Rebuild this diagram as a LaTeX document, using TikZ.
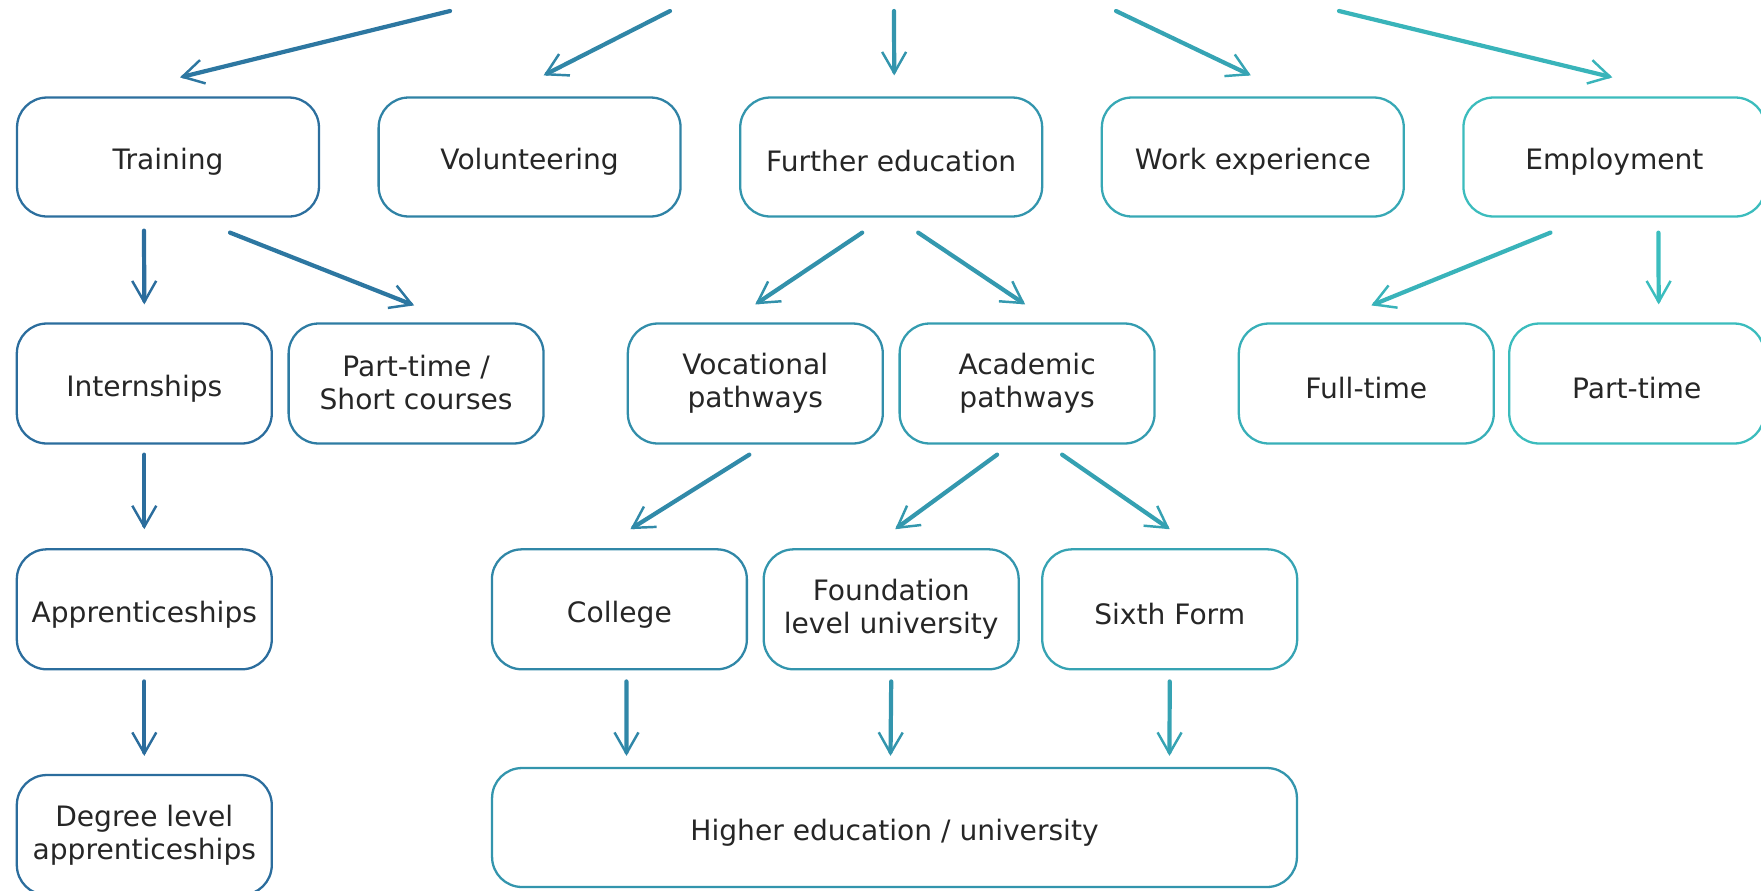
\documentclass[tikz,border=0pt]{standalone}
\usepackage{fontspec}
\setmainfont{DejaVu Sans}
\usetikzlibrary{arrows.meta, calc, positioning}
\definecolor{pathleft}{RGB}{42,102,154}
\definecolor{pathright}{RGB}{60,195,192}
\newcommand{\boxtop}{\rule{0pt}{18pt}}
\newcommand{\boxbottom}{\rule[-1.1pt]{0pt}{1.1pt}}

\begin{document}
\begin{tikzpicture}[x=0.02cm, y=-0.02cm, >={Straight Barb[length=0.42cm, width=0.48cm, line width=1.4pt]}]
	\tikzstyle{format} = [draw, line width=1.3pt, rounded corners=0.6cm, minimum width=6.04cm, minimum height=2.38cm, align=center, text=black!85, font=\fontsize{16}{19}\selectfont, execute at begin node=\boxtop, execute at end node=\boxbottom]
	\tikzstyle{small} = [format, minimum width=5.1cm, minimum height=2.4cm]

	\useasboundingbox (0,0) rectangle (1761,890);

	% first row
	\begin{scope}
		\coordinate (s1) at (450,11);
		\coordinate (s2) at (670,11);
		\coordinate (s3) at (894,11);
		\coordinate (s4) at (1116,11);
		\coordinate (s5) at (1339,11);

		\path[->, line width=2.4pt, line cap=round]
			node[format, draw=pathright!10!pathleft] (train) at (168,157) {Training}
			node[format, draw=pathright!30!pathleft] (vol) at (529.6,157) {Volunteering}
			node[format, draw=pathright!51!pathleft] (further) at (891.2,157) {Further education}
			node[format, draw=pathright!71!pathleft] (work) at (1252.8,157) {Work experience}
			node[format, draw=pathright!92!pathleft] (emp) at (1614.4,157) {Employment}

			(s1) edge[pathright!18!pathleft] ($(train.north)+(12,-19)$)
			(s2) edge[pathright!34!pathleft] ($(vol.north)+(14,-21)$)
			(s3) edge[pathright!51!pathleft] ($(further.north)+(3,-21)$)
			(s4) edge[pathright!67!pathleft] ($(work.north)+(-2,-21)$)
			(s5) edge[pathright!84!pathleft] ($(emp.north)+(-2,-19)$)
		;
	\end{scope}

	% second row
	\begin{scope}
		\path[->, line width=2.4pt, line cap=round]
			node[small, draw=pathright!8!pathleft] (intern) at (144.3,383.5) {Internships}
			node[small, draw=pathright!24!pathleft] (short) at (416.1,383.5) {Part-time /\\Short courses}
			node[small, draw=pathright!43!pathleft] (voc) at (755.3,383.5) {Vocational\\pathways}
			node[small, draw=pathright!58!pathleft] (acad) at (1027.1,383.5) {Academic\\pathways}
			node[small, draw=pathright!78!pathleft] (full) at (1366.3,383.5) {Full-time}
			node[small, draw=pathright!93!pathleft] (part) at (1636.7,383.5) {Part-time}

			($(train.south)+(-24,13)$) edge[pathright!8!pathleft] ($(intern.north)+(0,-18)$)
			($(train.south)+(62,15)$) edge[pathright!18!pathleft] ($(short.north)+(-2,-17)$)
			($(further.south)+(-29,15)$) edge[pathright!46!pathleft] ($(voc.north)+(0,-18)$)
			($(further.south)+(27,15)$) edge[pathright!55!pathleft] ($(acad.north)+(-2,-18)$)
			($(emp.south)+(-64,15)$) edge[pathright!83!pathleft] ($(full.north)+(5,-17)$)
			($(emp.south)+(44,15)$) edge[pathright!94!pathleft] ($(part.north)+(22,-18)$)
		;
	\end{scope}

	% third row
	\begin{scope}
		\path[->, line width=2.4pt, line cap=round]
			node[small, draw=pathright!8!pathleft] (appr) at (144.3,609.3) {Apprenticeships}
			node[small, draw=pathright!35!pathleft] (college) at (619.4,609.3) {College}
			node[small, draw=pathright!51!pathleft] (found) at (891.2,609.3) {Foundation\\level university}
			node[small, draw=pathright!66!pathleft] (sixth) at (1169.7,609.3) {Sixth Form}

			($(intern.south)+(0,10)$) edge[pathright!8!pathleft] ($(appr.north)+(0,-19)$)
			($(voc.south)+(-6,10)$) edge[pathright!39!pathleft] ($(college.north)+(11,-19)$)
			($(acad.south)+(-30,10)$) edge[pathright!54!pathleft] ($(found.north)+(4,-19)$)
			($(acad.south)+(35,10)$) edge[pathright!63!pathleft] ($(sixth.north)+(0,-19)$)
		;
	\end{scope}

	% last row
	\begin{scope}
		\path[->, line width=2.4pt, line cap=round]
			node[small, draw=pathright!8!pathleft] (degree) at (144.3,835) {Degree level\\apprenticeships}
			node[small, minimum width=16.1cm, minimum height=2.38cm, draw=pathright!51!pathleft] (higher) at (894.5,827.5) {Higher education / university}

			($(appr.south)+(0,11)$) edge[pathright!8!pathleft] ($(degree.north)+(0,-18)$)
			($(college.south)+(7,11)$) edge[pathright!36!pathleft] ($(higher.north)+(-268,-11)$)
			($(found.south)+(0,11)$) edge[pathright!51!pathleft] ($(higher.north)+(-4,-11)$)
			($(sixth.south)+(0,11)$) edge[pathright!66!pathleft] ($(higher.north)+(275,-11)$)
		;
	\end{scope}
\end{tikzpicture}
\end{document}
